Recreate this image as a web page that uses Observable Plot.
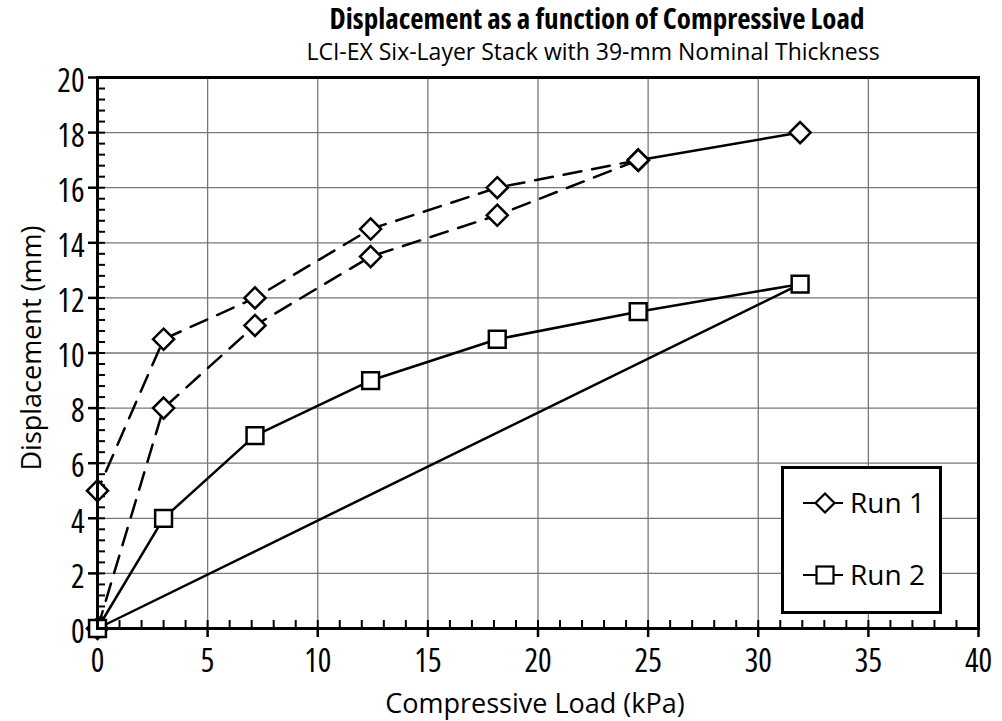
<!DOCTYPE html>
<html><head><meta charset="utf-8">
<script src="https://cdn.jsdelivr.net/npm/d3@7"></script>
<script src="https://cdn.jsdelivr.net/npm/@observablehq/plot@0.6"></script>
<style>
body{margin:0;background:#fff;}
#wrap{position:relative;width:1002px;height:721px;font-family:"Open Sans","DejaVu Sans",sans-serif;color:#000;}
#chart{position:absolute;left:0;top:0;}
.t{position:absolute;white-space:nowrap;transform:translateX(-50%);line-height:1;}
#title{left:597px;top:3px;font-size:29px;font-weight:bold;font-stretch:75%;}
#subtitle{left:593px;top:40px;font-size:23px;}
#xlabel{left:535px;top:689px;font-size:27px;}
#ylabel{position:absolute;left:30px;top:348px;font-size:27px;line-height:1;white-space:nowrap;transform:translate(-50%,-50%) rotate(-90deg);}
#legend{position:absolute;left:781px;top:466px;}
#legend text{font-family:"Open Sans","DejaVu Sans",sans-serif;font-size:28px;}
</style></head><body>
<div id="wrap">
<div id="chart"></div>
<div id="title" class="t">Displacement as a function of Compressive Load</div>
<div id="subtitle" class="t">LCI-EX Six-Layer Stack with 39-mm Nominal Thickness</div>
<div id="xlabel" class="t">Compressive Load (kPa)</div>
<div id="ylabel">Displacement (mm)</div>
<svg id="legend" width="161" height="148">
  <rect x="1.5" y="1.5" width="158" height="145" fill="white" stroke="black" stroke-width="3"/>
  <line x1="22" y1="37" x2="62" y2="37" stroke="black" stroke-width="2"/>
  <path d="M44,27.5L53.5,37L44,46.5L34.5,37Z" fill="white" stroke="black" stroke-width="2.2"/>
  <text x="69" y="47">Run 1</text>
  <line x1="22" y1="109" x2="62" y2="109" stroke="black" stroke-width="2"/>
  <rect x="35.5" y="100.5" width="17" height="17" fill="white" stroke="black" stroke-width="2.2"/>
  <text x="69" y="119">Run 2</text>
</svg>
</div>
<script>
// Data
const loads = [0, 3.0, 7.15, 12.4, 18.15, 24.55, 31.9];          // kPa
const run1LoadingDisp = [0, 8, 11, 13.5, 15, 17];                  // at loads[0..5], dashed
const run1PeakLoads = [24.55, 31.9];
const run1PeakDisp = [17, 18];                                     // solid
const run1UnloadLoads = [24.55, 18.15, 12.4, 7.15, 3.0, 0];
const run1UnloadDisp = [17, 16, 14.5, 12, 10.5, 5];                // dashed
const run2LoadingDisp = [0, 4, 7, 9, 10.5, 11.5, 12.5];            // at loads[0..6], solid
const run2UnloadLoads = [31.9, 0];
const run2UnloadDisp = [12.5, 0];                                  // solid
const xTicks = [0, 5, 10, 15, 20, 25, 30, 35, 40];
const yTicks = [0, 2, 4, 6, 8, 10, 12, 14, 16, 18, 20];

const zip = (xs, ys) => ys.map((y, i) => ({x: xs[i], y}));
const r1a = zip(loads, run1LoadingDisp);
const r1b = zip(run1PeakLoads, run1PeakDisp);
const r1c = zip(run1UnloadLoads, run1UnloadDisp);
const r2a = zip(loads, run2LoadingDisp);
const r2b = zip(run2UnloadLoads, run2UnloadDisp);
const run1Pts = [...r1a, ...r1b, ...r1c];
const run2Pts = [...r2a];

const W = 1002, H = 721, mL = 97, mR = 24, mT = 77, mB = 93;
const pw = W - mL - mR, ph = H - mT - mB;
const xMinor = d3.range(0, 41);
const yMinor = d3.range(0, 51).map(i => +(i * 0.4).toFixed(2));

const chart = Plot.plot({
  width: W, height: H,
  marginLeft: mL, marginRight: mR, marginTop: mT, marginBottom: mB,
  x: {domain: [0, 40]},
  y: {domain: [0, 20]},
  style: {fontFamily: '"Open Sans","DejaVu Sans",sans-serif', fontStretch: "75%", color: "black", background: "white"},
  marks: [
    Plot.ruleX(xTicks.slice(1, -1), {stroke: "#777", strokeWidth: 1.3}),
    Plot.ruleY(yTicks.slice(1, -1), {stroke: "#777", strokeWidth: 1.3}),
    Plot.tickX(xMinor, {x: d => d, insetTop: ph - 8, stroke: "black", strokeWidth: 2}),
    Plot.tickY(yMinor, {y: d => d, insetRight: pw - 8, stroke: "black", strokeWidth: 2}),
    Plot.axisX({ticks: xTicks, tickSize: 9, tickPadding: 12, fontSize: 32, label: null, strokeWidth: 2.5, tickFormat: d => d}),
    Plot.axisY({ticks: yTicks, tickSize: 9, fontSize: 32, label: null, strokeWidth: 2.5, tickFormat: () => ""}),
    Plot.axisY({ticks: yTicks, tickSize: 0, tickPadding: 13, dy: 4, fontSize: 32, label: null, tickFormat: d => d}),
    Plot.line(r2b, {x: "x", y: "y", stroke: "black", strokeWidth: 2.5}),
    Plot.line(r2a, {x: "x", y: "y", stroke: "black", strokeWidth: 2.5}),
    Plot.line(r1a, {x: "x", y: "y", stroke: "black", strokeWidth: 2.5, strokeDasharray: "18,11"}),
    Plot.line(r1c, {x: "x", y: "y", stroke: "black", strokeWidth: 2.5, strokeDasharray: "18,11"}),
    Plot.line(r1b, {x: "x", y: "y", stroke: "black", strokeWidth: 2.5}),
    Plot.dot(run1Pts, {x: "x", y: "y", symbol: "diamond2", r: 9.5, fill: "white", stroke: "black", strokeWidth: 2.5}),
    Plot.dot(run2Pts, {x: "x", y: "y", symbol: "square", r: 9.5, fill: "white", stroke: "black", strokeWidth: 2.5}),
    Plot.frame({stroke: "black", strokeWidth: 3})
  ]
});
document.getElementById("chart").appendChild(chart);
</script>
</body></html>
